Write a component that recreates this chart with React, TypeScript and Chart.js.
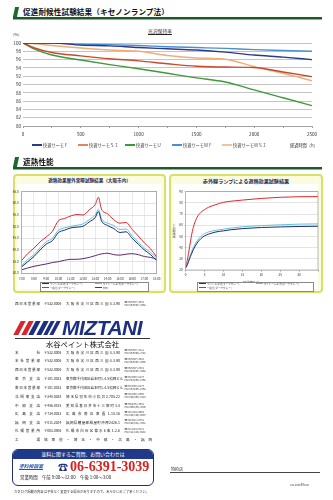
import React, { useEffect, useRef } from "react";
import { Chart, registerables } from "chart.js";
Chart.register(...registerables);

const FONT = "'Noto Sans CJK JP', 'Noto Sans', sans-serif";

// ---------- 光沢保持率 (gloss retention) ----------
const glossHours = [0, 100, 250, 500, 750, 1000, 1250, 1500, 1750, 2000, 2250, 2500];
const glossNames = ["快適サーモＦ", "快適サーモＳＩ", "快適サーモＵ", "快適サーモＷＦ", "快適サーモＷＳＩ"];
const glossF = [100, 100, 100, 99.5, 99.3, 98.9, 98.6, 98.3, 97.8, 97.1, 96.6, 96.0];
const glossSI = [100, 98.8, 97.7, 96.9, 96.2, 95.7, 95.0, 94.4, 94.2, 94.1, 93.0, 91.9];
const glossU = [100, 98.5, 97.1, 95.9, 94.8, 93.8, 92.7, 91.6, 90.6, 88.7, 86.8, 84.9];
const glossWF = [100, 100, 100, 99.7, 99.6, 99.4, 99.1, 98.9, 98.7, 98.4, 98.2, 98.0];
const glossWSI = [100, 99.8, 99.4, 98.8, 98.3, 98.0, 97.0, 96.4, 96.1, 94.3, 92.7, 90.9];
const glossColors = ["#2b3a8c", "#c94a2a", "#3d9a3a", "#4b8fd1", "#f0ad78"];
const glossLegendColors = ["#2b3a8c", "#d98a5e", "#3d9a3a", "#4b8fd1", "#f2c39a"];

// ---------- 遮熱効果屋外実曝試験結果 ----------
const outdoorTimes = [7, 7.5, 8, 8.5, 9, 9.5, 10, 10.5, 11, 11.5, 12, 12.5, 13, 13.25, 13.5, 14, 14.5, 15, 15.5, 16, 16.5, 17, 17.5, 18];
const outdoorRed = [35.5, 38.5, 40.8, 43.5, 45.6, 48.0, 52.6, 53.5, 54.6, 55.2, 55.0, 57.2, 59.6, 62.6, 57.5, 55.5, 53.0, 51.5, 51.8, 48.8, 46.0, 43.0, 40.5, 37.0];
const outdoorCyan = [33.2, 36.0, 38.0, 41.0, 43.5, 45.0, 48.5, 49.5, 50.2, 50.6, 51.2, 53.0, 55.0, 57.5, 53.5, 51.5, 50.5, 48.8, 49.0, 46.0, 43.5, 40.8, 39.0, 36.5];
const outdoorNavy = [32.8, 35.0, 37.2, 40.0, 42.5, 44.0, 47.5, 48.5, 49.5, 49.8, 50.2, 52.0, 54.0, 56.5, 52.5, 50.5, 49.2, 47.5, 47.8, 45.0, 42.5, 40.0, 38.0, 35.5];
const outdoorAir = [31.5, 32.3, 33.0, 33.5, 34.0, 34.6, 35.0, 35.6, 36.0, 36.0, 36.3, 36.8, 37.6, 38.0, 38.3, 38.6, 38.0, 37.8, 38.2, 38.4, 38.0, 37.2, 36.8, 36.0];
const outdoorNames = ["プリンス工法(ダークグレー)", "ワイドーム工法(ダークグレー)", "一般色(ダークグレー)", "外気"];
const outdoorColors = ["#1f2a78", "#5cc6cf", "#e0282a", "#5a2a6a"];

// ---------- 赤外線ランプによる遮熱効果試験結果 ----------
const lampMinutes = [0, 0.5, 1, 1.5, 2, 3, 4, 5, 6, 8, 10, 12, 15, 20, 25, 30, 35];
const lampRed = [22, 30, 40, 50, 58, 67, 71.5, 74, 76, 78.5, 80.5, 81.5, 82.5, 84, 85, 85.5, 85.6];
const lampCyan = [22, 26, 31, 36, 40, 46, 50, 52.5, 54, 55.5, 56.5, 57.5, 58.6, 59.7, 60.4, 61.0, 61.2];
const lampNavy = [22, 25, 30, 34, 38, 44, 48, 50.5, 52, 54, 55, 56, 57, 58, 58.5, 58.9, 59.1];
const lampNames = ["プリンス工法(ダークグレー)", "ワイドーム工法(ダークグレー)", "一般色(ダークグレー)"];
const lampColors = ["#1f2a78", "#5cc6cf", "#e0282a"];

// ---------- company info ----------
const branchNames = ["本　　　社", "本社営業部", "西日本営業部", "東 京 支 店", "東日本営業部", "北関東支店", "中 部 支 店", "広 島 支 店", "福 岡 支 店", "札幌営業所"];
const branchPostal = ["〒532-0006", "〒532-0006", "〒532-0006", "〒101-0032", "〒101-0032", "〒348-0038", "〒486-0815", "〒734-0022", "〒811-2304", "〒003-0806"];
const branchAddress = ["大阪市淀川区西三国4-3-90", "大阪市淀川区西三国4-3-90", "大阪市淀川区西三国4-3-90", "東京都千代田区岩本町1-4-5松岡ビル", "東京都千代田区岩本町1-4-5松岡ビル", "埼玉県羽生市小松台2-705-22", "愛知県春日井市十三塚町3-4", "広島市南区東雲1-15-16", "福岡県糟屋郡粕屋町仲原2426-1", "札幌市白石区菊水6条1-2-6"];
const branchTel = ["☎ 06(6397)-3111", "☎ 06(6397)-3401", "☎ 06(6397)-3431", "☎ 03(3863)-8177", "☎ 03(3863)-8177", "☎ 048(560)-0350", "☎ 0568(35)-3501", "☎ 082(284)-6554", "☎ 092(611)-5731", "☎ 011(824)-0711"];
const branchFax = ["FAX 06(6399)-7191", "FAX 06(6397)-3456", "FAX 06(6397)-3458", "FAX 03(3863)-8768", "FAX 03(3863)-8768", "FAX 048(560)-0124", "FAX 0568(35)-3506", "FAX 082(284)-6697", "FAX 092(621)-3381", "FAX 011(824)-6991"];
const branchY = [352.7, 361.5, 370.5, 379, 388, 396.7, 406, 414.3, 422.7, 431];

function ChartCanvas(props: { left: number; top: number; width: number; height: number; config: any }) {
  const ref = useRef<HTMLCanvasElement>(null);
  useEffect(() => {
    const chart = new Chart(ref.current as HTMLCanvasElement, props.config);
    return () => chart.destroy();
  }, []);
  return (
    <canvas
      ref={ref}
      width={props.width}
      height={props.height}
      style={{ position: "absolute", left: props.left, top: props.top, width: props.width, height: props.height }}
    />
  );
}

const framePlugin = {
  id: "frame",
  afterDraw(chart: any) {
    const { ctx, chartArea: a } = chart;
    ctx.save();
    ctx.strokeStyle = "#8a8a8a";
    ctx.lineWidth = 0.6;
    ctx.strokeRect(a.left, a.top, a.right - a.left, a.bottom - a.top);
    ctx.restore();
  },
};

function lineSet(label: string, xs: number[], ys: number[], color: string, width: number) {
  return {
    label,
    data: xs.map((x, i) => ({ x, y: ys[i] })),
    borderColor: color,
    backgroundColor: color,
    borderWidth: width,
    pointRadius: 0,
    fill: false,
    cubicInterpolationMode: "monotone",
  };
}

const glossConfig = {
  type: "line",
  data: {
    datasets: [
      lineSet(glossNames[0], glossHours, glossF, glossColors[0], 1.4),
      lineSet(glossNames[1], glossHours, glossSI, glossColors[1], 1.4),
      lineSet(glossNames[2], glossHours, glossU, glossColors[2], 1.4),
      lineSet(glossNames[3], glossHours, glossWF, glossColors[3], 1.4),
      lineSet(glossNames[4], glossHours, glossWSI, glossColors[4], 1.4),
    ],
  },
  options: {
    responsive: false,
    animation: false,
    layout: { padding: { top: 13, right: 21, left: 0, bottom: 0 } },
    plugins: { legend: { display: false }, tooltip: { enabled: false } },
    scales: {
      x: {
        type: "linear",
        min: 0,
        max: 2500,
        ticks: {
          stepSize: 250,
          autoSkip: false,
          maxRotation: 0,
          padding: 3,
          color: "#333",
          font: { size: 4.6, family: FONT },
          callback: (v: number) => (v % 500 === 0 ? String(v) : ""),
        },
        grid: { drawOnChartArea: false, tickLength: 2, color: "#9a9a9a" },
        border: { color: "#9a9a9a", width: 0.8 },
        afterFit: (s: any) => { s.height = 16; },
      },
      y: {
        min: 80,
        max: 100,
        ticks: { stepSize: 2, autoSkip: false, padding: 2, color: "#333", font: { size: 4.6, family: FONT } },
        grid: { color: "#bdbdbd", lineWidth: 0.9, drawTicks: false },
        border: { display: false },
        afterFit: (s: any) => { s.width = 23; },
      },
    },
  },
};

const outdoorConfig = {
  type: "line",
  data: {
    datasets: [
      lineSet(outdoorNames[0], outdoorTimes, outdoorNavy, outdoorColors[0], 1),
      lineSet(outdoorNames[1], outdoorTimes, outdoorCyan, outdoorColors[1], 1),
      lineSet(outdoorNames[2], outdoorTimes, outdoorRed, outdoorColors[2], 1),
      lineSet(outdoorNames[3], outdoorTimes, outdoorAir, outdoorColors[3], 1),
    ],
  },
  options: {
    responsive: false,
    animation: false,
    layout: { padding: { top: 6.7, right: 7.3, left: 0, bottom: 0 } },
    plugins: { legend: { display: false }, tooltip: { enabled: false } },
    scales: {
      x: {
        type: "linear",
        min: 7,
        max: 18,
        ticks: {
          stepSize: 1,
          autoSkip: false,
          maxRotation: 0,
          padding: 2,
          color: "#333",
          font: { size: 3, family: FONT },
          callback: (v: number) => `${v}:00`,
        },
        grid: { color: "#d4d4d4", lineWidth: 0.5, tickLength: 1.5 },
        border: { display: false },
        afterFit: (s: any) => { s.height = 11.7; },
      },
      y: {
        min: 30,
        max: 65,
        ticks: { stepSize: 5, autoSkip: false, padding: 1.5, color: "#333", font: { size: 3, family: FONT }, callback: (v: number) => v.toFixed(1) },
        grid: { color: "#c8c8c8", lineWidth: 0.5, tickLength: 1.5 },
        border: { display: false },
        afterFit: (s: any) => { s.width = 9.7; },
      },
    },
  },
  plugins: [framePlugin],
};

const lampConfig = {
  type: "line",
  data: {
    datasets: [
      lineSet(lampNames[0], lampMinutes, lampNavy, lampColors[0], 1),
      lineSet(lampNames[1], lampMinutes, lampCyan, lampColors[1], 1),
      lineSet(lampNames[2], lampMinutes, lampRed, lampColors[2], 1),
    ],
  },
  options: {
    responsive: false,
    animation: false,
    layout: { padding: { top: 6.7, right: 4, left: 0, bottom: 0 } },
    plugins: { legend: { display: false }, tooltip: { enabled: false } },
    scales: {
      x: {
        type: "linear",
        min: 0,
        max: 35,
        title: { display: true, text: "経過時間(分)", font: { size: 3, family: FONT }, color: "#333", padding: 0.5 },
        ticks: { stepSize: 5, autoSkip: false, maxRotation: 0, padding: 1.5, color: "#333", font: { size: 3, family: FONT }, callback: (v: number) => (v < 35 ? String(v) : "") },
        grid: { drawOnChartArea: false, tickLength: 1.5, color: "#999" },
        border: { display: false },
        afterFit: (s: any) => { s.height = 15; },
      },
      y: {
        min: 20,
        max: 90,
        title: { display: true, text: "表面温度(℃)", font: { size: 2.6, family: FONT }, color: "#333", padding: 0.5 },
        ticks: { stepSize: 10, autoSkip: false, padding: 1.5, color: "#333", font: { size: 3, family: FONT } },
        grid: { color: "#c8c8c8", lineWidth: 0.5, tickLength: 1.5 },
        border: { display: false },
        afterFit: (s: any) => { s.width = 13.7; },
      },
    },
  },
  plugins: [framePlugin],
};

const abs = (left: number, top: number, extra: React.CSSProperties = {}): React.CSSProperties => ({
  position: "absolute",
  left,
  top,
  whiteSpace: "nowrap",
  ...extra,
});

function SectionHeader(props: { top: number; text: string }) {
  const t = props.top;
  return (
    <>
      <div style={abs(13.5, t - 5, { width: 4, height: 10, background: "#1c6a2e", transform: "skewX(-12deg)" })} />
      <div style={abs(23, t - 6, { fontSize: 7.6, lineHeight: "12px", fontWeight: 700, color: "#111", letterSpacing: 0.1 })}>{props.text}</div>
      <div style={abs(13, t + 5.2, { width: 309, height: 1.8, background: "#1d5a2a" })} />
      <div style={abs(13, t + 7, { width: 309, height: 0.6, background: "#9aa89c" })} />
    </>
  );
}

function LegendSwatch(props: { left: number; top: number; color: string; text: string; size: number; len: number; thick: number }) {
  return (
    <div style={abs(props.left, props.top - props.size, { display: "flex", alignItems: "center", height: props.size * 2, fontSize: props.size, color: "#444" })}>
      <span style={{ display: "inline-block", width: props.len, height: props.thick, background: props.color, marginRight: props.size * 0.25 }} />
      <span>{props.text}</span>
    </div>
  );
}

function Justified(props: { left: number; top: number; width: number; size: number; text: string; color?: string }) {
  return (
    <div
      style={abs(props.left, props.top - props.size * 0.6, {
        width: props.width,
        fontSize: props.size,
        lineHeight: `${props.size * 1.2}px`,
        textAlign: "justify",
        textAlignLast: "justify",
        color: props.color || "#222",
      } as React.CSSProperties)}
    >
      {props.text}
    </div>
  );
}

function BranchRow(props: { y: number; name: string; postal: string; address: string; tel: string; fax: string }) {
  const y = props.y;
  return (
    <>
      <Justified left={15} top={y} width={25} size={3.6} text={props.name} />
      <div style={abs(44, y - 2.2, { fontSize: 3.3, lineHeight: "4.4px", color: "#222" })}>{props.postal}</div>
      <Justified left={66} top={y} width={54} size={3.5} text={props.address} />
      <div style={abs(124.5, y - 3.3, { fontSize: 2.5, lineHeight: "3px", color: "#333" })}>
        {props.tel}
        <br />
        {props.fax}
      </div>
    </>
  );
}

export default function App() {
  return (
    <div style={{ position: "relative", width: 333, height: 500, background: "#fff", fontFamily: FONT, overflow: "hidden" }}>
      <style>{`body{margin:0;}`}</style>

      {/* Section 1 */}
      <SectionHeader top={12} text="促進耐候性試験結果（キセノンランプ法）" />
      <div style={abs(148, 28, { fontSize: 4.8, lineHeight: "6px", color: "#222", textDecoration: "underline" })}>光沢保持率</div>
      <div style={abs(13, 32, { fontSize: 4, lineHeight: "5px", color: "#333" })}>(%)</div>
      <ChartCanvas left={0} top={30} width={333} height={112} config={glossConfig} />
      {glossNames.map((n, i) => (
        <LegendSwatch key={n} left={[32, 78, 125, 172, 222][i]} top={145} color={glossLegendColors[i]} text={n} size={4.2} len={10} thick={1.1} />
      ))}
      <div style={abs(290, 142.5, { fontSize: 4.2, lineHeight: "5px", color: "#333" })}>経過時間（h）</div>

      {/* Section 2 */}
      <SectionHeader top={162} text="遮熱性能" />

      {/* Left panel */}
      <div style={abs(13, 174, { width: 149, height: 115, background: "#fbfbdf", border: "2px solid #d6e06a", borderRadius: 4 })} />
      <div style={abs(17, 183.5, { width: 144, height: 105, background: "#ffffff" })} />
      <div style={abs(13, 176.5, { width: 153, textAlign: "center", fontSize: 4.6, lineHeight: "6px", fontWeight: 700, color: "#1e2a5a" })}>
        遮熱効果屋外実曝試験結果（大阪市内）
      </div>
      <ChartCanvas left={12} top={185} width={152} height={100} config={outdoorConfig} />
      <div style={abs(40, 281.5, { width: 107, height: 8, background: "#fff", border: "0.6px solid #888" })} />
      <LegendSwatch left={42} top={284} color={outdoorColors[0]} text={outdoorNames[0]} size={2.6} len={7} thick={1} />
      <LegendSwatch left={95} top={284} color={outdoorColors[1]} text={outdoorNames[1]} size={2.6} len={7} thick={1} />
      <LegendSwatch left={42} top={287.8} color={outdoorColors[2]} text={outdoorNames[2]} size={2.6} len={7} thick={1} />
      <LegendSwatch left={95} top={287.8} color={outdoorColors[3]} text={outdoorNames[3]} size={2.6} len={7} thick={1} />

      {/* Right panel */}
      <div style={abs(169, 174, { width: 150, height: 115, background: "#fbfbdf", border: "2px solid #d6e06a", borderRadius: 4 })} />
      <div style={abs(173, 183.5, { width: 145, height: 105, background: "#ffffff" })} />
      <div style={abs(169, 177.5, { width: 154, textAlign: "center", fontSize: 5.1, lineHeight: "6px", fontWeight: 700, color: "#1e2a5a" })}>
        赤外線ランプによる遮熱効果試験結果
      </div>
      <ChartCanvas left={172} top={185} width={150} height={100} config={lampConfig} />
      <div style={abs(197, 281.5, { width: 115, height: 8, background: "#fff", border: "0.6px solid #888" })} />
      <LegendSwatch left={199} top={284} color={lampColors[0]} text={lampNames[0]} size={2.6} len={7} thick={1} />
      <LegendSwatch left={256} top={284} color={lampColors[1]} text={lampNames[1]} size={2.6} len={7} thick={1} />
      <LegendSwatch left={199} top={287.8} color={lampColors[2]} text={lampNames[2]} size={2.6} len={7} thick={1} />

      {/* Company block */}
      <BranchRow y={304} name="西日本営業部" postal="〒532-0006" address="大阪市淀川区西三国4-3-90" tel="☎ 06(6397)-3431" fax="FAX 06(6397)-3458" />

      {/* logo */}
      {[0, 1, 2, 3].map((i) => (
        <div
          key={i}
          style={abs(17 + i * 7.5, 321, {
            width: 4.5,
            height: 14,
            background: i < 2 ? "#d9262c" : "#1d2f82",
            transform: "skewX(-28deg)",
          })}
        />
      ))}
      <div style={abs(47, 321, { width: 3.5, height: 14, background: "#1d2f82", transform: "skewX(-28deg)" })} />
      <div style={abs(53, 321, { width: 3.5, height: 14, background: "#1d2f82", transform: "skewX(-28deg)" })} />
      <div style={abs(62, 316.5, { fontFamily: "'Liberation Sans', Arial, sans-serif", fontSize: 19.5, lineHeight: "22px", fontWeight: 900, fontStyle: "italic", color: "#1d2f82", transform: "scaleX(1.08)", transformOrigin: "left center", letterSpacing: -0.5 })}>
        MIZTANI
      </div>
      <div style={abs(15, 337.5, { width: 135, height: 0.7, background: "#333" })} />
      <div style={abs(15, 338.5, { width: 135, textAlign: "center", fontSize: 7.3, lineHeight: "10px", color: "#111" })}>水谷ペイント株式会社</div>

      {branchNames.map((n, i) => (
        <BranchRow key={n + i} y={branchY[i]} name={n} postal={branchPostal[i]} address={branchAddress[i]} tel={branchTel[i]} fax={branchFax[i]} />
      ))}
      <Justified left={15} top={440.5} width={25} size={3.6} text="工　　場" />
      <Justified left={44} top={440.5} width={108} size={3.6} text="城東他・埼玉・中部・広島・福岡" />

      {/* contact box */}
      <div style={abs(12, 449, { width: 140, height: 35, border: "1px solid #1f2f7a", borderRadius: 6, background: "#fff", overflow: "hidden" })}>
        <div style={{ height: 8.5, background: "#1f3a8a", color: "#fff", fontSize: 4.9, lineHeight: "8.5px", textAlign: "center" }}>
          塗料に関するご質問、お問い合わせは
        </div>
      </div>
      <div style={abs(19, 463, { fontSize: 4.8, lineHeight: "6px", fontStyle: "italic", fontWeight: 700, color: "#1f55b0", borderBottom: "0.8px solid #1f55b0" })}>塗料相談室</div>
      <div style={abs(58, 460.5, { fontSize: 10, lineHeight: "12px", color: "#1f2f7a" })}>☎</div>
      <div style={abs(70, 458.5, { fontFamily: "'Liberation Serif', serif", fontSize: 14, lineHeight: "16px", fontWeight: 700, color: "#d7201f" })}>06-6391-3039</div>
      <div style={abs(20, 474.5, { fontSize: 4.4, lineHeight: "5px", color: "#222" })}>営業時間　午前 9:00～12:00　午後 1:00～3:00</div>
      <div style={abs(14, 489.5, { fontSize: 3.3, lineHeight: "4px", color: "#333" })}>
        カタログ掲載の内容は予告なく変更する場合がありますので、あらかじめご了承ください。
      </div>

      {/* dealer */}
      <div style={abs(171, 466.5, { fontSize: 4, lineHeight: "5px", color: "#222" })}>特約店</div>
      <div style={abs(170, 471.5, { width: 150, height: 0.7, background: "#444" })} />
      <div style={abs(290, 483, { fontSize: 2.8, lineHeight: "4px", color: "#444" })}>1912005BS500</div>
    </div>
  );
}
